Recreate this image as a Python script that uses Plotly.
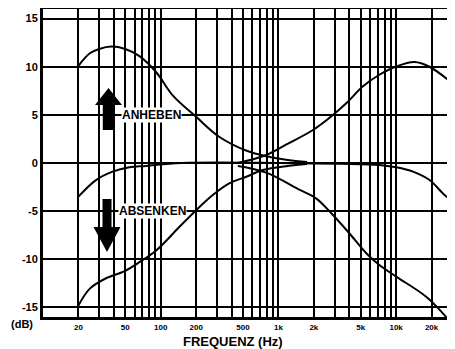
import plotly.graph_objects as go

# ---- data ----
bass_boost_f = [20, 25, 30, 38, 50, 66, 92, 127, 200, 316, 530, 790, 1200, 1750]
bass_boost_db = [10.1, 11.4, 11.85, 12.1, 11.85, 11.1, 9.4, 7.0, 4.8, 2.7, 1.3, 0.7, 0.3, 0.1]

bass_cut_f = [20, 25, 34, 50, 66, 92, 145, 200, 277, 385, 534, 737, 1200, 1750]
bass_cut_db = [-14.8, -13.05, -12.0, -11.2, -10.3, -9.06, -6.6, -4.9, -3.33, -2.1, -1.43, -0.73, -0.3, -0.1]

flat_f = [20, 28, 39, 54, 75, 150, 1000, 7200, 10000, 13900, 19200, 25000, 31300]
flat_db = [-3.5, -1.8, -0.9, -0.45, -0.3, 0.0, 0.0, -0.2, -0.45, -0.9, -1.77, -3.16, -4.2]

treble_boost_f = [452, 787, 1160, 1950, 2720, 3770, 5200, 7200, 10000, 14300, 19200, 31300]
treble_boost_db = [0.0, 0.83, 1.9, 3.4, 4.7, 6.2, 7.95, 9.17, 10.03, 10.5, 10.0, 8.1]

treble_cut_f = [452, 787, 1520, 2100, 2800, 4000, 5600, 7200, 10000, 18000, 27500]
treble_cut_db = [-0.3, -1.0, -2.8, -3.7, -5.2, -7.3, -9.4, -10.6, -11.8, -13.9, -16.2]

x_tick_vals = [20, 50, 100, 200, 500, 1000, 2000, 5000, 10000, 20000]
x_tick_text = ["20", "50", "100", "200", "500", "1k", "2k", "5k", "10k", "20k"]
y_tick_vals = [15, 10, 5, 0, -5, -10, -15]
y_tick_text = ["15", "10", "5", "0", "-5", "-10", "-15"]
grid_freqs = [m * d for d in (10, 100, 1000, 10000) for m in range(1, 10) if 20 <= m * d <= 20000]

# ---- layout geometry (page body has an 8px margin) ----
OFF = 8
W, H = 455 - OFF, 349 - OFF
ML, MR, MT, MB = 43 - OFF, 0, 9 - OFF, 32
PW, PH = W - ML - MR, H - MT - MB
P_LEFT, P_BOTTOM = 43, 317  # plot area in screen pixels


def px(x):
    return (x - P_LEFT) / PW


def py(y):
    return (P_BOTTOM - y) / PH


FONT = "Liberation Sans, Arial, sans-serif"

fig = go.Figure()
for f, db in [(bass_boost_f, bass_boost_db), (bass_cut_f, bass_cut_db), (flat_f, flat_db),
              (treble_boost_f, treble_boost_db), (treble_cut_f, treble_cut_db)]:
    fig.add_trace(go.Scatter(x=f, y=db, mode="lines",
                             line=dict(color="black", width=2, shape="spline", smoothing=1.0),
                             showlegend=False, hoverinfo="skip"))


def arrow_path(cx, tip, base, end, hw, sw):
    pts = [(cx, tip), (cx + hw, base), (cx + sw, base), (cx + sw, end), (cx - sw, end), (cx - sw, base), (cx - hw, base)]
    return "M " + " L ".join(f"{px(a):.4f},{py(b):.4f}" for a, b in pts) + " Z"


shapes = [
    dict(type="path", xref="paper", yref="paper", path=arrow_path(108.5, 88, 105, 130, 13.5, 5.7),
         fillcolor="black", line=dict(width=0)),
    dict(type="path", xref="paper", yref="paper", path=arrow_path(107, 252, 227, 199, 13.5, 4.5),
         fillcolor="black", line=dict(width=0)),
]


def label(text, x, y, size):
    return dict(text=text, x=px(x), y=py(y), xref="paper", yref="paper", showarrow=False,
                xanchor="center", yanchor="middle",
                font=dict(family=FONT, size=size, color="black", weight="bold"))


a1 = label("ANHEBEN", 151, 114.5, 12)
a1.update(bgcolor="white", borderpad=0)
a2 = label("ABSENKEN", 152, 211, 12)
a2.update(bgcolor="white", borderpad=0)

fig.update_layout(
    width=W, height=H, margin=dict(l=ML, r=MR, t=MT, b=MB, autoexpand=False),
    paper_bgcolor="white", plot_bgcolor="white",
    shapes=shapes,
    annotations=[a1, a2, label("FREQUENZ (Hz)", 233, 341, 13), label("(dB)", 22, 324, 11)],
    xaxis=dict(type="log", range=[1.0, 4.5], tickvals=x_tick_vals, ticktext=x_tick_text,
               tickfont=dict(family=FONT, size=8, color="black", weight="bold"),
               showgrid=True, gridcolor="black", gridwidth=1.5,
               minor=dict(tickvals=grid_freqs, showgrid=True, gridcolor="black", gridwidth=1.5, ticks=""),
               showline=True, linecolor="black", linewidth=3, mirror=True, ticks="", zeroline=False),
    yaxis=dict(range=[-16, 16], tickvals=y_tick_vals, ticktext=y_tick_text,
               tickfont=dict(family=FONT, size=11, color="black", weight="bold"),
               showgrid=True, gridcolor="black", gridwidth=1.5, zeroline=False,
               showline=True, linecolor="black", linewidth=3, ticks=""),
)

fig.write_html("out.html")
